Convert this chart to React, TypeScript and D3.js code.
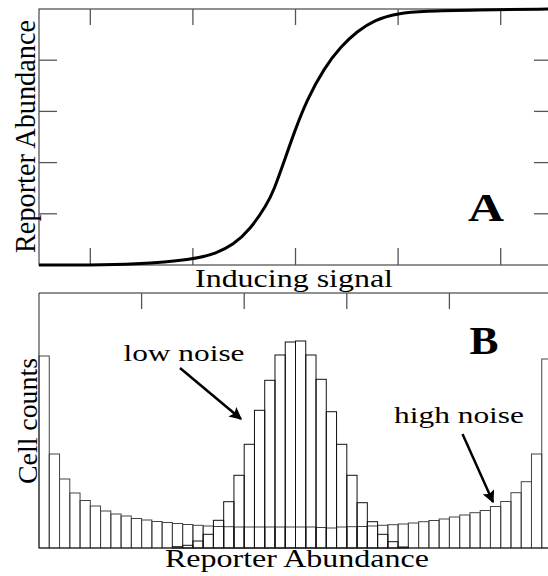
import React from "react";
import * as d3 from "d3";

// Panel A: dose-response curve
const signal = [0, 1, 1.83, 3, 3.47, 3.78, 4.11, 4.44, 4.58, 4.78, 4.97, 5.22, 5.56, 5.89, 6.2, 6.53, 7.0, 7.5, 8.48, 10];
const abundance = [0, 0.0, 0.002, 0.02, 0.047, 0.078, 0.137, 0.235, 0.293, 0.405, 0.516, 0.645, 0.77, 0.855, 0.912, 0.957, 0.984, 0.992, 0.996, 1.0];
const xTicksA = [1, 3, 5, 7, 9];
const yTicksA = [0.2, 0.4, 0.6, 0.8];

// Panel B: histograms (50 bins)
const highNoise = [192, 94, 69, 55, 47.5, 42, 37, 34, 32, 29.5, 28, 26.5, 25.5, 24.5, 23.5, 22.7, 22, 21.5, 21.3, 21, 21, 21, 21, 21, 21, 21, 21, 20.5, 20, 21, 21.3, 21.5, 22, 22.7, 23.3, 24, 25, 26.3, 27.5, 29, 31, 33, 35.3, 37.5, 41.5, 46.5, 55.3, 66.3, 94, 189];
const lowNoise = [0, 0, 0, 0, 0, 0, 0, 0, 0, 0, 0, 0, 0, 1.3, 2.7, 7, 13.7, 27.7, 46.3, 72.7, 103.7, 137.7, 167.7, 193, 206, 207, 193, 168.7, 136.3, 103.7, 72.7, 45.3, 26.3, 13.7, 6.3, 1, 0, 0, 0, 0, 0, 0, 0, 0, 0, 0, 0, 0, 0, 0];
const xTicksB = [10, 20, 30, 40];

const labelFont = "'Liberation Serif', 'Times New Roman', serif";

export default function App() {
  const W = 548, H = 576;
  const left = 39, right = 552;
  const aTop = 9, aBottom = 265;
  const bTop = 293, bBottom = 548;

  const xA = d3.scaleLinear().domain([0, 10]).range([left, right]);
  const yA = d3.scaleLinear().domain([0, 1]).range([aBottom, aTop]);
  const line = d3
    .line<number>()
    .x((_, i) => xA(signal[i]))
    .y((d) => yA(d))
    .curve(d3.curveBasis);

  const xB = d3.scaleLinear().domain([0, 50]).range([left, right]);
  const yB = d3.scaleLinear().domain([0, 255]).range([bBottom, bTop]);

  const tickColor = "#555";

  return (
    <svg
      width={W}
      height={H}
      style={{ position: "absolute", left: 0, top: 0, background: "#fff" }}
    >
      <rect x={0} y={0} width={W} height={H} fill="#fff" />
      {/* Panel A frame */}
      <rect x={left} y={aTop} width={right - left} height={aBottom - aTop} fill="none" stroke="#222" strokeWidth={1} />
      {xTicksA.map((t) => (
        <g key={"xa" + t}>
          <line x1={xA(t)} x2={xA(t)} y1={aTop} y2={aTop + 16} stroke={tickColor} strokeWidth={1.3} />
          <line x1={xA(t)} x2={xA(t)} y1={aBottom} y2={aBottom - 17} stroke={tickColor} strokeWidth={1.3} />
        </g>
      ))}
      {yTicksA.map((t) => (
        <g key={"ya" + t}>
          <line x1={left} x2={left + 18} y1={yA(t)} y2={yA(t)} stroke={tickColor} strokeWidth={1.3} />
          <line x1={right} x2={right - 18} y1={yA(t)} y2={yA(t)} stroke={tickColor} strokeWidth={1.3} />
        </g>
      ))}
      <path d={line(abundance) || ""} fill="none" stroke="#000" strokeWidth={3} />
      <text x={486} y={221} fontFamily={labelFont} fontWeight="bold" fontSize={39} textAnchor="middle" textLength={36} lengthAdjust="spacingAndGlyphs">A</text>
      <text x={294} y={287} fontFamily={labelFont} fontSize={25} textAnchor="middle" textLength={198} lengthAdjust="spacingAndGlyphs">Inducing signal</text>
      <text
        transform={`translate(35,136.5) rotate(-90)`}
        fontFamily={labelFont}
        fontSize={29}
        textAnchor="middle"
        textLength={233}
        lengthAdjust="spacingAndGlyphs"
      >
        Reporter Abundance
      </text>

      {/* Panel B */}
      {highNoise.map((v, i) => (
        <rect key={"h" + i} x={xB(i)} y={yB(v)} width={xB(i + 1) - xB(i)} height={bBottom - yB(v)} fill="none" stroke="#444" strokeWidth={1} />
      ))}
      {lowNoise.map((v, i) =>
        v > 0 ? (
          <rect key={"l" + i} x={xB(i)} y={yB(v)} width={xB(i + 1) - xB(i)} height={bBottom - yB(v)} fill="none" stroke="#111" strokeWidth={1} />
        ) : null
      )}
      <line x1={left} x2={left} y1={bTop} y2={bBottom} stroke="#222" strokeWidth={1} />
      <line x1={left} x2={right} y1={bTop} y2={bTop} stroke="#222" strokeWidth={1} />
      <line x1={left} x2={right} y1={bBottom} y2={bBottom} stroke="#222" strokeWidth={1} />
      {xTicksB.map((t) => (
        <line key={"xb" + t} x1={xB(t)} x2={xB(t)} y1={bTop} y2={bTop + 16} stroke={tickColor} strokeWidth={1.3} />
      ))}
      <text x={484} y={354} fontFamily={labelFont} fontWeight="bold" fontSize={39} textAnchor="middle" textLength={29} lengthAdjust="spacingAndGlyphs">B</text>
      <text x={184} y={361} fontFamily={labelFont} fontSize={24} textAnchor="middle" textLength={121} lengthAdjust="spacingAndGlyphs">low noise</text>
      <text x={459} y={422.7} fontFamily={labelFont} fontSize={24} textAnchor="middle" textLength={130} lengthAdjust="spacingAndGlyphs">high noise</text>
      <defs>
        <marker id="arrow" viewBox="0 0 10 10" refX={9} refY={5} markerWidth={5} markerHeight={5} orient="auto" markerUnits="strokeWidth">
          <path d="M0,0 L10,5 L0,10 L2,5 Z" fill="#000" />
        </marker>
      </defs>
      <line x1={180} y1={368} x2={241} y2={419} stroke="#000" strokeWidth={2.5} markerEnd="url(#arrow)" />
      <line x1={462.5} y1={434} x2={493} y2={502} stroke="#000" strokeWidth={2.5} markerEnd="url(#arrow)" />
      <text
        transform={`translate(37,421) rotate(-90)`}
        fontFamily={labelFont}
        fontSize={28}
        textAnchor="middle"
        textLength={126}
        lengthAdjust="spacingAndGlyphs"
      >
        Cell counts
      </text>
      <text x={297} y={567} fontFamily={labelFont} fontSize={25} textAnchor="middle" textLength={264} lengthAdjust="spacingAndGlyphs">Reporter Abundance</text>
    </svg>
  );
}
